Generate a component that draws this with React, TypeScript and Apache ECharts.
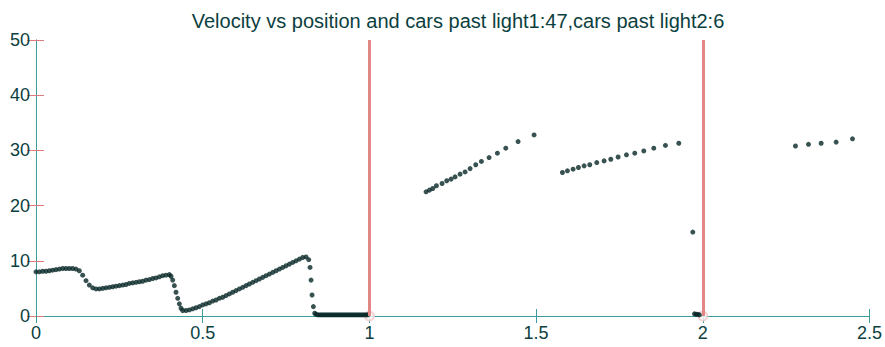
import React, { useEffect, useRef } from "react";
import * as echarts from "echarts";

const titleText = "Velocity vs position and cars past light1:47,cars past light2:6";

const xTicks = [0, 0.5, 1, 1.5, 2, 2.5];
const yTicks = [0, 10, 20, 30, 40, 50];

// Dense congested stretch before light 1
const denseX = [
  0.0, 0.01, 0.02, 0.03, 0.04, 0.05, 0.06, 0.07, 0.08, 0.09, 0.1, 0.11, 0.12, 0.13, 0.14, 0.15, 0.16, 0.17, 0.18, 0.19,
  0.2, 0.21, 0.22, 0.23, 0.24, 0.25, 0.26, 0.27, 0.28, 0.29, 0.3, 0.31, 0.32, 0.33, 0.34, 0.35, 0.36, 0.37, 0.38, 0.39,
  0.4, 0.405, 0.41, 0.415, 0.42, 0.425, 0.43, 0.435, 0.44, 0.45, 0.46, 0.47, 0.48, 0.49, 0.5, 0.51, 0.52, 0.53, 0.54,
  0.55, 0.56, 0.57, 0.58, 0.59, 0.6, 0.61, 0.62, 0.63, 0.64, 0.65, 0.66, 0.67, 0.68, 0.69, 0.7, 0.71, 0.72, 0.73, 0.74,
  0.75, 0.76, 0.77, 0.78, 0.79, 0.8, 0.81, 0.818, 0.822, 0.825, 0.828, 0.832, 0.836,
];
const denseV = [
  8.0, 8.0, 8.1, 8.1, 8.2, 8.3, 8.4, 8.5, 8.6, 8.6, 8.6, 8.6, 8.5, 8.2, 7.4, 6.4, 5.6, 5.1, 4.9, 4.9,
  5.0, 5.1, 5.2, 5.3, 5.4, 5.5, 5.6, 5.7, 5.9, 6.0, 6.1, 6.2, 6.3, 6.5, 6.6, 6.8, 6.9, 7.1, 7.3, 7.4,
  7.5, 7.2, 6.5, 5.5, 4.3, 3.2, 2.2, 1.4, 1.0, 1.0, 1.1, 1.3, 1.5, 1.7, 2.0, 2.2, 2.4, 2.7, 2.9,
  3.2, 3.4, 3.7, 4.0, 4.3, 4.6, 4.9, 5.2, 5.5, 5.8, 6.1, 6.4, 6.7, 7.0, 7.3, 7.6, 7.9, 8.2, 8.5, 8.8,
  9.1, 9.4, 9.7, 10.0, 10.3, 10.6, 10.7, 10.2, 8.8, 6.5, 3.8, 1.7, 0.5,
];

// Queue stopped at light 1
const queue1X = [
  0.84, 0.846, 0.852, 0.858, 0.864, 0.87, 0.876, 0.882, 0.888, 0.894, 0.9, 0.906, 0.912, 0.918, 0.924, 0.93,
  0.936, 0.942, 0.948, 0.954, 0.96, 0.966, 0.972, 0.978, 0.984, 0.99, 0.995,
];
const queue1V = [
  0.3, 0.2, 0.2, 0.2, 0.2, 0.2, 0.2, 0.2, 0.2, 0.2, 0.2, 0.2, 0.2, 0.2, 0.2, 0.2,
  0.2, 0.2, 0.2, 0.2, 0.2, 0.2, 0.2, 0.2, 0.2, 0.2, 0.2,
];

// Free-flowing platoon after light 1
const platoonAX = [
  1.17, 1.18, 1.19, 1.201, 1.218, 1.232, 1.245, 1.257, 1.272, 1.287, 1.302, 1.319, 1.336, 1.359, 1.384, 1.409, 1.446, 1.494,
];
const platoonAV = [
  22.5, 22.8, 23.1, 23.6, 24.0, 24.5, 24.8, 25.2, 25.7, 26.1, 26.7, 27.4, 28.0, 28.7, 29.5, 30.4, 31.6, 32.8,
];

const platoonBX = [
  1.579, 1.594, 1.611, 1.627, 1.644, 1.661, 1.682, 1.704, 1.724, 1.746, 1.771, 1.796, 1.823, 1.853, 1.888, 1.928, 1.97,
];
const platoonBV = [
  26.0, 26.3, 26.6, 26.9, 27.2, 27.4, 27.8, 28.1, 28.4, 28.8, 29.2, 29.5, 29.9, 30.4, 30.9, 31.3, 15.2,
];

// Queue stopped at light 2
const queue2X = [1.975, 1.98, 1.985, 1.99];
const queue2V = [0.4, 0.3, 0.3, 0.2];

// Cars past light 2
const platoonCX = [2.278, 2.317, 2.355, 2.4, 2.449];
const platoonCV = [30.8, 31.1, 31.3, 31.5, 32.1];

const lightPos = [1, 2];

const zip = (xs: number[], ys: number[]) => xs.map((x, i) => [x, ys[i]]);

export default function App() {
  const ref = useRef<HTMLDivElement>(null);
  useEffect(() => {
    if (!ref.current) return;
    const chart = echarts.init(ref.current, undefined, { renderer: "svg" });
    const font = "'Liberation Sans', Arial, sans-serif";
    const textColor = "#0c4040";
    const teal = "#3a9c9c";
    const pink = "#e07c7c";
    const dotColor = "#062626";
    const allPoints = [
      ...zip(denseX, denseV),
      ...zip(queue1X, queue1V),
      ...zip(platoonAX, platoonAV),
      ...zip(platoonBX, platoonBV),
      ...zip(queue2X, queue2V),
      ...zip(platoonCX, platoonCV),
    ];
    chart.setOption({
      animation: false,
      backgroundColor: "#ffffff",
      title: {
        text: titleText,
        left: 453,
        top: 6,
        textAlign: "center",
        textStyle: { fontFamily: font, fontSize: 20, fontWeight: "normal", color: textColor },
      },
      grid: { left: 36, right: 14, top: 40, bottom: 31 },
      xAxis: [
        {
          type: "value",
          min: xTicks[0],
          max: xTicks[xTicks.length - 1],
          interval: 0.5,
          position: "bottom",
          axisLine: { show: true, onZero: false, lineStyle: { color: teal, width: 1 } },
          axisTick: { show: true, inside: true, length: 7, lineStyle: { color: teal } },
          axisLabel: { margin: 8, fontFamily: font, fontSize: 18, color: textColor },
          splitLine: { show: false },
        },
        {
          type: "value",
          min: xTicks[0],
          max: xTicks[xTicks.length - 1],
          interval: 0.5,
          position: "top",
          axisLine: { show: true, lineStyle: { color: teal, width: 1 } },
          axisTick: { show: true, inside: true, length: 7, lineStyle: { color: teal } },
          axisLabel: { show: false },
          splitLine: { show: false },
        },
      ],
      yAxis: [
        {
          type: "value",
          min: yTicks[0],
          max: yTicks[yTicks.length - 1],
          interval: 10,
          position: "left",
          axisLine: { show: true, onZero: false, lineStyle: { color: pink, width: 1 } },
          axisTick: { show: true, inside: true, length: 8, lineStyle: { color: pink } },
          axisLabel: { margin: 6, fontFamily: font, fontSize: 18, color: textColor },
          splitLine: { show: false },
        },
        {
          type: "value",
          min: yTicks[0],
          max: yTicks[yTicks.length - 1],
          interval: 10,
          position: "right",
          axisLine: { show: true, lineStyle: { color: teal, width: 1 } },
          axisTick: { show: true, inside: true, length: 9, lineStyle: { color: pink } },
          axisLabel: { show: false },
          splitLine: { show: false },
        },
      ],
      series: [
        {
          type: "line",
          data: [],
          markLine: {
            silent: true,
            symbol: "none",
            label: { show: false },
            lineStyle: { color: "#e28686", width: 3, type: "solid" },
            data: lightPos.map((x) => ({ xAxis: x })),
          },
        },
        {
          type: "scatter",
          data: lightPos.map((x) => [x, 0]),
          symbol: "emptyCircle",
          symbolSize: 9,
          itemStyle: { color: "#f4c8c8", borderColor: "#e9a0a0", borderWidth: 1 },
          z: 2,
        },
        {
          type: "scatter",
          data: allPoints,
          symbol: "circle",
          symbolSize: 5,
          itemStyle: { color: dotColor },
          z: 3,
        },
      ],
    });
    return () => chart.dispose();
  }, []);
  return <div ref={ref} style={{ position: "fixed", left: 0, top: 0, width: 885, height: 347 }} />;
}
